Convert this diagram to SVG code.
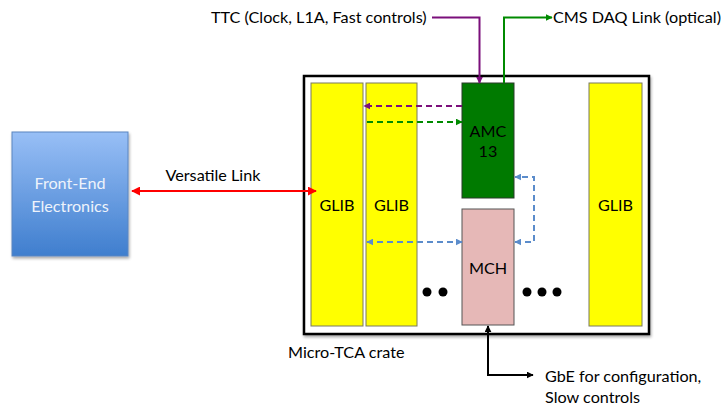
<svg xmlns="http://www.w3.org/2000/svg" width="722" height="405" viewBox="0 0 722 405">
<defs>
<style>
text{font-family:Lato,"Liberation Sans",Arial,sans-serif;font-size:16.2px;fill:#000}
.c{text-anchor:middle}
.glib{fill:#FFFF00;stroke:#7a7a60;stroke-width:1}
.dash{fill:none;stroke-width:2;stroke-dasharray:6,4}
</style>
<linearGradient id="fe" x1="0" y1="0" x2="0" y2="1">
<stop offset="0" stop-color="#98BFF6"/>
<stop offset="1" stop-color="#3F7ECE"/>
</linearGradient>
<filter id="sh" x="-10%" y="-10%" width="130%" height="130%">
<feGaussianBlur in="SourceAlpha" stdDeviation="1.5"/>
<feOffset dx="1" dy="2"/>
<feComponentTransfer><feFuncA type="linear" slope="0.35"/></feComponentTransfer>
<feMerge><feMergeNode/><feMergeNode in="SourceGraphic"/></feMerge>
</filter>
<marker id="aRed" viewBox="0 0 10 10" refX="9" refY="5" markerWidth="9" markerHeight="9" markerUnits="userSpaceOnUse" orient="auto-start-reverse"><path d="M0,0L10,5L0,10z" fill="#FF0000"/></marker>
<marker id="aPur" viewBox="0 0 10 10" refX="9" refY="5" markerWidth="7" markerHeight="7" markerUnits="userSpaceOnUse" orient="auto-start-reverse"><path d="M0,0L10,5L0,10z" fill="#7B0F7B"/></marker>
<marker id="aGrn" viewBox="0 0 10 10" refX="9" refY="5" markerWidth="7" markerHeight="7" markerUnits="userSpaceOnUse" orient="auto-start-reverse"><path d="M0,0L10,5L0,10z" fill="#008A00"/></marker>
<marker id="aBlu" viewBox="0 0 10 10" refX="9" refY="5" markerWidth="7" markerHeight="7" markerUnits="userSpaceOnUse" orient="auto-start-reverse"><path d="M0,0L10,5L0,10z" fill="#5B8CCB"/></marker>
<marker id="aBlk" viewBox="0 0 10 10" refX="9" refY="5" markerWidth="7" markerHeight="7" markerUnits="userSpaceOnUse" orient="auto-start-reverse"><path d="M0,0L10,5L0,10z" fill="#000"/></marker>
</defs>
<rect width="722" height="405" fill="#fff"/>

<g id="crate">
<rect x="304" y="76" width="345" height="258" fill="#fff" stroke="#000" stroke-width="2.5" filter="url(#sh)"/>
<text x="288" y="358">Micro-TCA crate</text>
</g>

<g id="frontend">
<rect x="12" y="132" width="116" height="124" fill="url(#fe)" stroke="#5A86C0" stroke-width="1" filter="url(#sh)"/>
<text class="c" x="70" y="189" style="fill:#EEF3FB">Front-End</text>
<text class="c" x="70" y="212" style="fill:#EEF3FB">Electronics</text>
</g>

<g id="glib1">
<rect class="glib" x="311" y="83" width="52" height="243"/>
<text class="c" x="337" y="211">GLIB</text>
</g>
<g id="glib2">
<rect class="glib" x="366" y="83" width="51" height="243"/>
<text class="c" x="391.5" y="211">GLIB</text>
</g>
<g id="glib3">
<rect class="glib" x="589" y="83" width="53" height="243"/>
<text class="c" x="615.5" y="211">GLIB</text>
</g>
<g id="amc13">
<rect x="462" y="83" width="52" height="115" fill="#007A00" stroke="#2a3a2a" stroke-width="1"/>
<text class="c" x="488" y="137">AMC</text>
<text class="c" x="488" y="157">13</text>
</g>
<g id="mch">
<rect x="462" y="209" width="52" height="116" fill="#E6B8B7" stroke="#555" stroke-width="1"/>
<text class="c" x="488" y="274">MCH</text>
</g>
<g id="dots">
<circle cx="427" cy="292" r="4.5"/>
<circle cx="443" cy="292" r="4.5"/>
<circle cx="527" cy="292" r="4.5"/>
<circle cx="542" cy="292" r="4.5"/>
<circle cx="557" cy="292" r="4.5"/>
</g>

<g id="labels">
<text x="211" y="23">TTC (Clock, L1A, Fast controls)</text>
<text x="553" y="23">CMS DAQ Link (optical)</text>
<text class="c" x="213" y="181">Versatile Link</text>
<text x="545" y="382">GbE for configuration,</text>
<text x="545" y="403">Slow controls</text>
</g>

<g id="connectors">
<path d="M132,191H316" fill="none" stroke="#FF0000" stroke-width="2" marker-start="url(#aRed)" marker-end="url(#aRed)"/>
<path d="M432,17.5H479.5V83" fill="none" stroke="#7B0F7B" stroke-width="2" marker-end="url(#aPur)"/>
<path d="M504,83V17.5H552" fill="none" stroke="#008A00" stroke-width="2" marker-end="url(#aGrn)"/>
<path class="dash" d="M462,106H364" stroke="#7B0F7B" marker-end="url(#aPur)"/>
<path class="dash" d="M367,122H462" stroke="#008A00" marker-end="url(#aGrn)"/>
<path class="dash" d="M367,242H462" stroke="#5B8CCB" marker-start="url(#aBlu)" marker-end="url(#aBlu)"/>
<path class="dash" d="M515,242H534V177H515" stroke="#5B8CCB" marker-start="url(#aBlu)" marker-end="url(#aBlu)"/>
<path d="M488,326V375H533" fill="none" stroke="#000" stroke-width="2" marker-start="url(#aBlk)" marker-end="url(#aBlk)"/>
</g>
</svg>
